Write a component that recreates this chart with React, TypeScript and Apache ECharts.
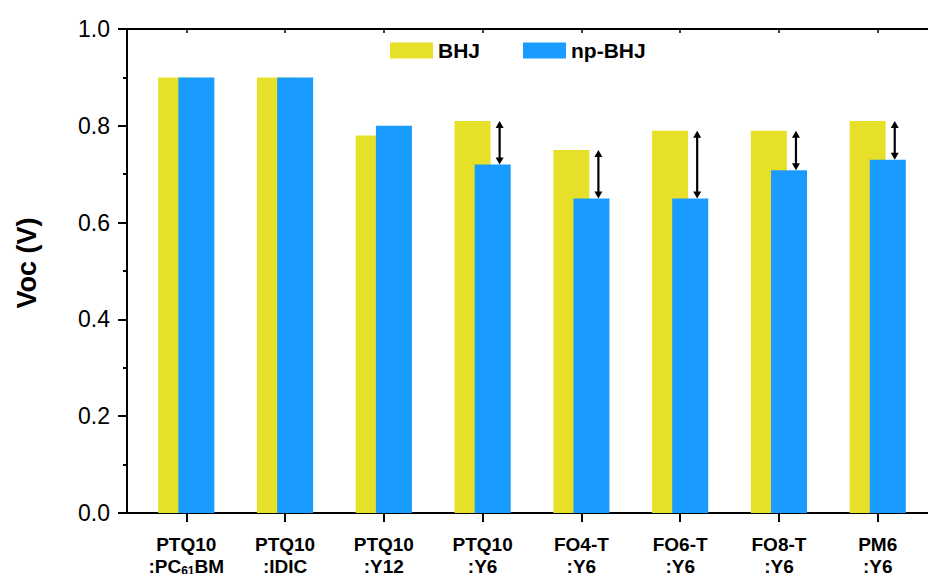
import React, { useEffect, useRef } from "react";
import * as echarts from "echarts";

const categories = [
  "PTQ10\n:PC{sub|61}BM",
  "PTQ10\n:IDIC",
  "PTQ10\n:Y12",
  "PTQ10\n:Y6",
  "FO4-T\n:Y6",
  "FO6-T\n:Y6",
  "FO8-T\n:Y6",
  "PM6\n:Y6",
];
const bhj = [0.9, 0.9, 0.78, 0.81, 0.75, 0.79, 0.79, 0.81];
const npBhj = [0.9, 0.9, 0.8, 0.72, 0.65, 0.65, 0.708, 0.73];
const arrowIndex = [3, 4, 5, 6, 7];
const yTicks = [0, 0.2, 0.4, 0.6, 0.8, 1.0];

const FONT = "'Liberation Sans', Arial, Helvetica, sans-serif";
const YELLOW = "#E6E128";
const BLUE = "#1A9BFF";

export default function App() {
  const ref = useRef<HTMLDivElement>(null);
  useEffect(() => {
    document.body.style.margin = "0";
    const chart = echarts.init(ref.current!, null, { renderer: "svg" });
    const idx = categories.map((_, i) => i);
    const option: any = {
      animation: false,
      backgroundColor: "#ffffff",
      textStyle: { fontFamily: FONT },
      grid: {
        left: 127,
        top: 29,
        width: 810,
        height: 484,
        containLabel: false,
        outerBoundsMode: "none",
      },
      legend: {
        data: ["BHJ", "np-BHJ"],
        left: 390,
        top: 40,
        padding: 0,
        icon: "rect",
        itemWidth: 43,
        itemHeight: 16,
        itemGap: 43,
        textStyle: { fontSize: 21, fontWeight: "bold", color: "#000", fontFamily: FONT },
      },
      xAxis: [
        {
          type: "value",
          min: -0.6,
          max: 7.6,
          position: "bottom",
          splitLine: { show: false },
          axisLine: { show: true, onZero: false, lineStyle: { color: "#000", width: 2 } },
          axisTick: {
            show: true,
            inside: false,
            length: 9,
            customValues: idx,
            lineStyle: { color: "#000", width: 2 },
          },
          axisLabel: {
            show: true,
            customValues: idx,
            margin: 20,
            fontSize: 19,
            fontWeight: "bold",
            color: "#000",
            fontFamily: FONT,
            lineHeight: 22,
            formatter: (v: number) => categories[Math.round(v)] ?? "",
            rich: {
              sub: {
                fontSize: 12,
                fontWeight: "bold",
                color: "#000",
                fontFamily: FONT,
                verticalAlign: "bottom",
                lineHeight: 14,
              },
            },
          },
        },
        {
          type: "value",
          min: -0.6,
          max: 7.6,
          position: "top",
          splitLine: { show: false },
          axisLine: { show: true, onZero: false, lineStyle: { color: "#000", width: 2 } },
          axisTick: {
            show: true,
            inside: true,
            length: 4,
            customValues: idx,
            lineStyle: { color: "#000", width: 1.5 },
          },
          axisLabel: { show: false },
        },
      ],
      yAxis: {
        type: "value",
        min: 0,
        max: 1,
        interval: 0.2,
        splitLine: { show: false },
        axisLine: { show: true, onZero: false, lineStyle: { color: "#000", width: 2 } },
        axisTick: { show: true, length: 9, lineStyle: { color: "#000", width: 2 } },
        minorTick: { show: true, splitNumber: 2, length: 4, lineStyle: { color: "#000", width: 2 } },
        axisLabel: {
          margin: 17,
          fontSize: 23,
          color: "#000",
          fontFamily: FONT,
          formatter: (v: number) => (yTicks.some((t) => Math.abs(t - v) < 1e-9) ? v.toFixed(1) : ""),
        },
      },
      graphic: [
        {
          type: "text",
          x: 27,
          y: 263,
          rotation: Math.PI / 2,
          style: {
            text: "Voc (V)",
            fontSize: 27,
            fontWeight: "bold",
            fontFamily: FONT,
            fill: "#000",
            align: "center",
            verticalAlign: "middle",
          },
        },
      ],
      series: [
        {
          name: "BHJ",
          type: "bar",
          barWidth: 36,
          barGap: "-44%",
          itemStyle: { color: YELLOW },
          data: bhj.map((v, i) => [i, v]),
        },
        {
          name: "np-BHJ",
          type: "bar",
          barWidth: 36,
          barGap: "-44%",
          itemStyle: { color: BLUE },
          data: npBhj.map((v, i) => [i, v]),
        },
        {
          type: "custom",
          name: "gap",
          silent: true,
          encode: { x: 0, y: [1, 2] },
          data: arrowIndex.map((i) => [i, bhj[i], npBhj[i]]),
          renderItem: (params: any, api: any) => {
            const x = api.value(0);
            const p1 = api.coord([x, api.value(1)]);
            const p2 = api.coord([x, api.value(2)]);
            const px = p1[0] + 17;
            const yTop = Math.min(p1[1], p2[1]);
            const yBot = Math.max(p1[1], p2[1]);
            const hl = 7;
            const hw = 4;
            return {
              type: "group",
              children: [
                {
                  type: "line",
                  shape: { x1: px, y1: yTop + hl - 1, x2: px, y2: yBot - hl + 1 },
                  style: { stroke: "#000", lineWidth: 2.2 },
                },
                {
                  type: "polygon",
                  shape: { points: [[px, yTop], [px - hw, yTop + hl], [px + hw, yTop + hl]] },
                  style: { fill: "#000" },
                },
                {
                  type: "polygon",
                  shape: { points: [[px, yBot], [px - hw, yBot - hl], [px + hw, yBot - hl]] },
                  style: { fill: "#000" },
                },
              ],
            };
          },
        },
      ],
    };
    chart.setOption(option);
    return () => chart.dispose();
  }, []);
  return (
    <div
      ref={ref}
      style={{ position: "absolute", left: 0, top: 0, width: 928, height: 574 }}
    />
  );
}
